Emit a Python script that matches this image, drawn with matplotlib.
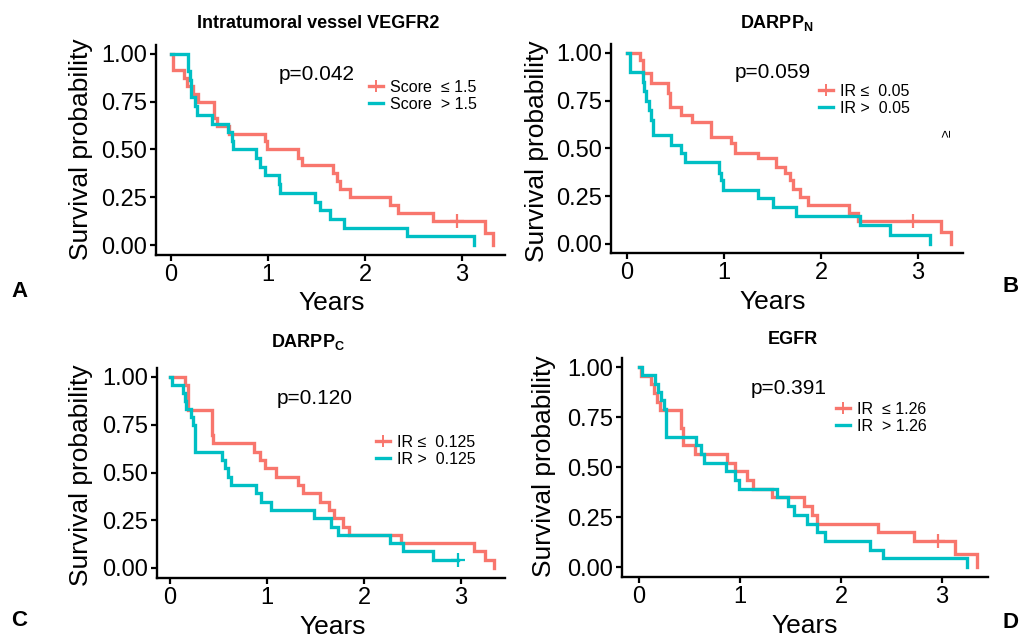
#! /usr/bin/env python3

'''
Four Kaplan-Meier panels (VEGFR2, DARPP N, DARPP C, EGFR), drawn as step curves.
'''

import matplotlib
matplotlib.use('Agg')
import matplotlib.pyplot as plt
from matplotlib.lines import Line2D
import numpy as np

plt.rcParams['font.family'] = ['Liberation Sans', 'DejaVu Sans']
plt.rcParams['mathtext.fontset'] = 'custom'
plt.rcParams['mathtext.rm'] = 'Liberation Sans'
plt.rcParams['mathtext.bf'] = 'Liberation Sans:bold'

RED = '#F8766D'
CYAN = '#00BFC4'
W, H = 1019, 639

# ---- data (years, survival after each drop) ----
a_low_t = [0.02, 0.13, 0.17, 0.23, 0.28, 0.44, 0.47, 0.60, 0.97, 0.99, 1.31,
           1.35, 1.67, 1.71, 1.74, 1.85, 2.26, 2.34, 2.70, 3.24, 3.32]
a_low_s = [0.917, 0.875, 0.833, 0.792, 0.75, 0.667, 0.625, 0.583, 0.542, 0.5,
           0.458, 0.417, 0.375, 0.333, 0.292, 0.25, 0.208, 0.167, 0.125,
           0.0625, 0.0]
a_low_cens = [2.95]
a_high_t = [0.18, 0.20, 0.21, 0.245, 0.265, 0.42, 0.59, 0.625, 0.64, 0.88,
            0.92, 0.97, 1.11, 1.12, 1.48, 1.54, 1.64, 1.78, 2.43, 3.12]
a_high_s = [0.909, 0.864, 0.773, 0.727, 0.682, 0.636, 0.591, 0.545, 0.5,
            0.455, 0.409, 0.364, 0.318, 0.273, 0.227, 0.182, 0.136, 0.091,
            0.045, 0.0]
a_high_cens = []

b_low_t = [0.13, 0.165, 0.25, 0.42, 0.44, 0.56, 0.67, 0.87, 1.075, 1.11,
           1.35, 1.54, 1.625, 1.68, 1.71, 1.78, 1.87, 2.29, 2.38, 3.24, 3.34]
b_low_s = [0.963, 0.894, 0.841, 0.789, 0.719, 0.675, 0.64, 0.562, 0.527,
           0.475, 0.449, 0.405, 0.37, 0.335, 0.29, 0.248, 0.204, 0.16, 0.12,
           0.065, 0.0]
b_low_cens = [2.95]
b_high_t = [0.03, 0.165, 0.18, 0.20, 0.227, 0.25, 0.27, 0.457, 0.56, 0.60,
            0.95, 0.97, 0.99, 1.35, 1.50, 1.74, 2.40, 2.71, 3.12]
b_high_s = [0.9, 0.85, 0.8, 0.75, 0.7, 0.65, 0.57, 0.518, 0.475, 0.431, 0.37,
            0.335, 0.283, 0.239, 0.195, 0.147, 0.1, 0.047, 0.0]
b_high_cens = []

c_low_t = [0.15, 0.19, 0.43, 0.445, 0.87, 0.925, 0.976, 1.09, 1.32, 1.37,
           1.55, 1.64, 1.695, 1.78, 1.85, 2.38, 3.13, 3.25, 3.34]
c_low_s = [0.957, 0.826, 0.696, 0.652, 0.609, 0.565, 0.522, 0.478, 0.435,
           0.391, 0.348, 0.304, 0.261, 0.217, 0.174, 0.13, 0.087, 0.043, 0.0]
c_low_cens = []
c_high_t = [0.017, 0.13, 0.154, 0.17, 0.22, 0.24, 0.26, 0.54, 0.565, 0.60,
            0.63, 0.89, 0.94, 1.045, 1.48, 1.66, 1.73, 2.27, 2.40, 2.71]
c_high_s = [0.958, 0.917, 0.875, 0.833, 0.792, 0.75, 0.609, 0.565, 0.522,
            0.478, 0.435, 0.391, 0.348, 0.304, 0.261, 0.217, 0.174, 0.13,
            0.087, 0.043]
c_high_cens = [2.97]

d_low_t = [0.02, 0.12, 0.15, 0.18, 0.21, 0.42, 0.44, 0.55, 0.87, 0.95, 1.07,
           1.13, 1.32, 1.63, 1.71, 1.76, 2.37, 2.72, 3.13, 3.35]
d_low_s = [0.957, 0.913, 0.87, 0.826, 0.783, 0.696, 0.609, 0.565, 0.522,
           0.478, 0.435, 0.391, 0.348, 0.304, 0.261, 0.217, 0.174, 0.13,
           0.065, 0.0]
d_low_cens = [2.96]
d_high_t = [0.03, 0.16, 0.19, 0.22, 0.25, 0.27, 0.56, 0.61, 0.64, 0.86, 0.95,
            0.99, 1.37, 1.48, 1.53, 1.66, 1.76, 1.84, 2.29, 2.42, 3.25]
d_high_s = [0.958, 0.917, 0.875, 0.833, 0.792, 0.652, 0.609, 0.565, 0.522,
            0.478, 0.435, 0.391, 0.348, 0.304, 0.261, 0.217, 0.174, 0.13,
            0.087, 0.043, 0.0]
d_high_cens = []

titles = ['Intratumoral vessel VEGFR2', r'DARPP$_\mathbf{N}$',
          r'DARPP$_\mathbf{C}$', 'EGFR']
p_values = ['p=0.042', 'p=0.059', 'p=0.120', 'p=0.391']
legend_labels = [
    ('Score  \u2264 1.5', 'Score  > 1.5'),
    ('IR \u2264  0.05', 'IR >  0.05'),
    ('IR \u2264  0.125', 'IR >  0.125'),
    ('IR  \u2264 1.26', 'IR  > 1.26'),
]
panel_letters = ['A', 'B', 'C', 'D']
y_ticks = [0, 0.25, 0.5, 0.75, 1.0]
y_tick_labels = ['0.00', '0.25', '0.50', '0.75', '1.00']
x_ticks = [0, 1, 2, 3]

curves = [
    ((a_low_t, a_low_s, a_low_cens), (a_high_t, a_high_s, a_high_cens)),
    ((b_low_t, b_low_s, b_low_cens), (b_high_t, b_high_s, b_high_cens)),
    ((c_low_t, c_low_s, c_low_cens), (c_high_t, c_high_s, c_high_cens)),
    ((d_low_t, d_low_s, d_low_cens), (d_high_t, d_high_s, d_high_cens)),
]

# ---- layout in reference pixels ----
# x of t=0, px per year, y of S=0, y of S=1, spine left/right/top/bottom
frames = [
    dict(x0=171, kx=97, yz=245, yo=54, l=156, r=505, t=45, b=255),
    dict(x0=627, kx=97, yz=244, yo=53, l=611, r=963, t=44, b=253),
    dict(x0=170, kx=97, yz=568, yo=377, l=157, r=505, t=368, b=578),
    dict(x0=639, kx=101, yz=567, yo=367, l=622, r=988, t=358, b=577),
]
title_pos = [(318, 23), (777, 23), (308, 342), (793, 340)]
p_pos = [(317, 75), (773, 73), (315, 398), (789, 388)]
legend_pos = [(369, 80), (819, 84), (376, 435), (836, 402)]
ylabel_pos = [(81, 149), (537, 151), (81, 475), (544, 466)]
xlabel_pos = [(332, 310), (773, 309), (333, 634), (805, 633)]
letter_pos = [(11, 292), (1003, 287), (11, 621), (1003, 622)]


def fx(px):
    return px / W


def fy(py):
    return 1 - py / H


def surv_at(times, surv, t):
    idx = np.searchsorted(times, t, side='right') - 1
    return 1.0 if idx < 0 else surv[idx]


def km_step(ax, times, surv, cens, color):
    x = [0.0] + list(times)
    y = [1.0] + list(surv)
    if cens and max(cens) > x[-1]:
        x.append(max(cens))
        y.append(y[-1])
    ax.step(x, y, where='post', color=color, lw=2.4, solid_joinstyle='miter')
    if cens:
        cy = [surv_at(times, surv, c) for c in cens]
        ax.plot(cens, cy, '+', color=color, ms=10, mew=1.6, ls='none')


def main():
    fig = plt.figure(figsize=(W / 100, H / 100), dpi=100)
    for i, fr in enumerate(frames):
        ax = fig.add_axes([fx(fr['l']), fy(fr['b']),
                           (fr['r'] - fr['l']) / W, (fr['b'] - fr['t']) / H])
        ky = fr['yz'] - fr['yo']
        ax.set_xlim((fr['l'] - fr['x0']) / fr['kx'],
                    (fr['r'] - fr['x0']) / fr['kx'])
        ax.set_ylim((fr['yz'] - fr['b']) / ky, (fr['yz'] - fr['t']) / ky)
        low, high = curves[i]
        km_step(ax, *low, RED)
        km_step(ax, *high, CYAN)

        for spine in 'right', 'top':
            ax.spines[spine].set_visible(False)
        for spine in 'left', 'bottom':
            ax.spines[spine].set_linewidth(1.7)
        ax.set_yticks(y_ticks)
        ax.set_yticklabels(y_tick_labels)
        ax.set_xticks(x_ticks)
        ax.tick_params(labelsize=17, length=4.5, width=1.6, pad=2,
                       colors='black')

        fig.text(fx(title_pos[i][0]), fy(title_pos[i][1]), titles[i],
                 fontsize=13, fontweight='bold', ha='center', va='center')
        fig.text(fx(p_pos[i][0]), fy(p_pos[i][1]), p_values[i],
                 fontsize=15, ha='center', va='center')
        fig.text(fx(ylabel_pos[i][0]), fy(ylabel_pos[i][1]),
                 'Survival probability', fontsize=19, rotation=90,
                 ha='center', va='center')
        fig.text(fx(xlabel_pos[i][0]), fy(xlabel_pos[i][1]), 'Years',
                 fontsize=19, ha='center', va='baseline')
        fig.text(fx(letter_pos[i][0]), fy(letter_pos[i][1]),
                 panel_letters[i], fontsize=16, fontweight='bold',
                 ha='left', va='center')

        handles = [Line2D([], [], color=RED, lw=2.4, marker='+', ms=8,
                          mew=1.4),
                   Line2D([], [], color=CYAN, lw=2.4)]
        ax.legend(handles, legend_labels[i], fontsize=11.5, frameon=False,
                  loc='upper left',
                  bbox_to_anchor=(fx(legend_pos[i][0]),
                                  fy(legend_pos[i][1])),
                  bbox_transform=fig.transFigure, borderpad=0,
                  borderaxespad=0, handlelength=0.9, handletextpad=0.4,
                  labelspacing=0.1)

    # stray glyph in panel B of the original
    fig.text(fx(947), fy(133), '\u2265', fontsize=10, rotation=90,
             ha='center', va='center')

    fig.savefig('out.png', dpi=100)


if __name__ == '__main__':
    main()
